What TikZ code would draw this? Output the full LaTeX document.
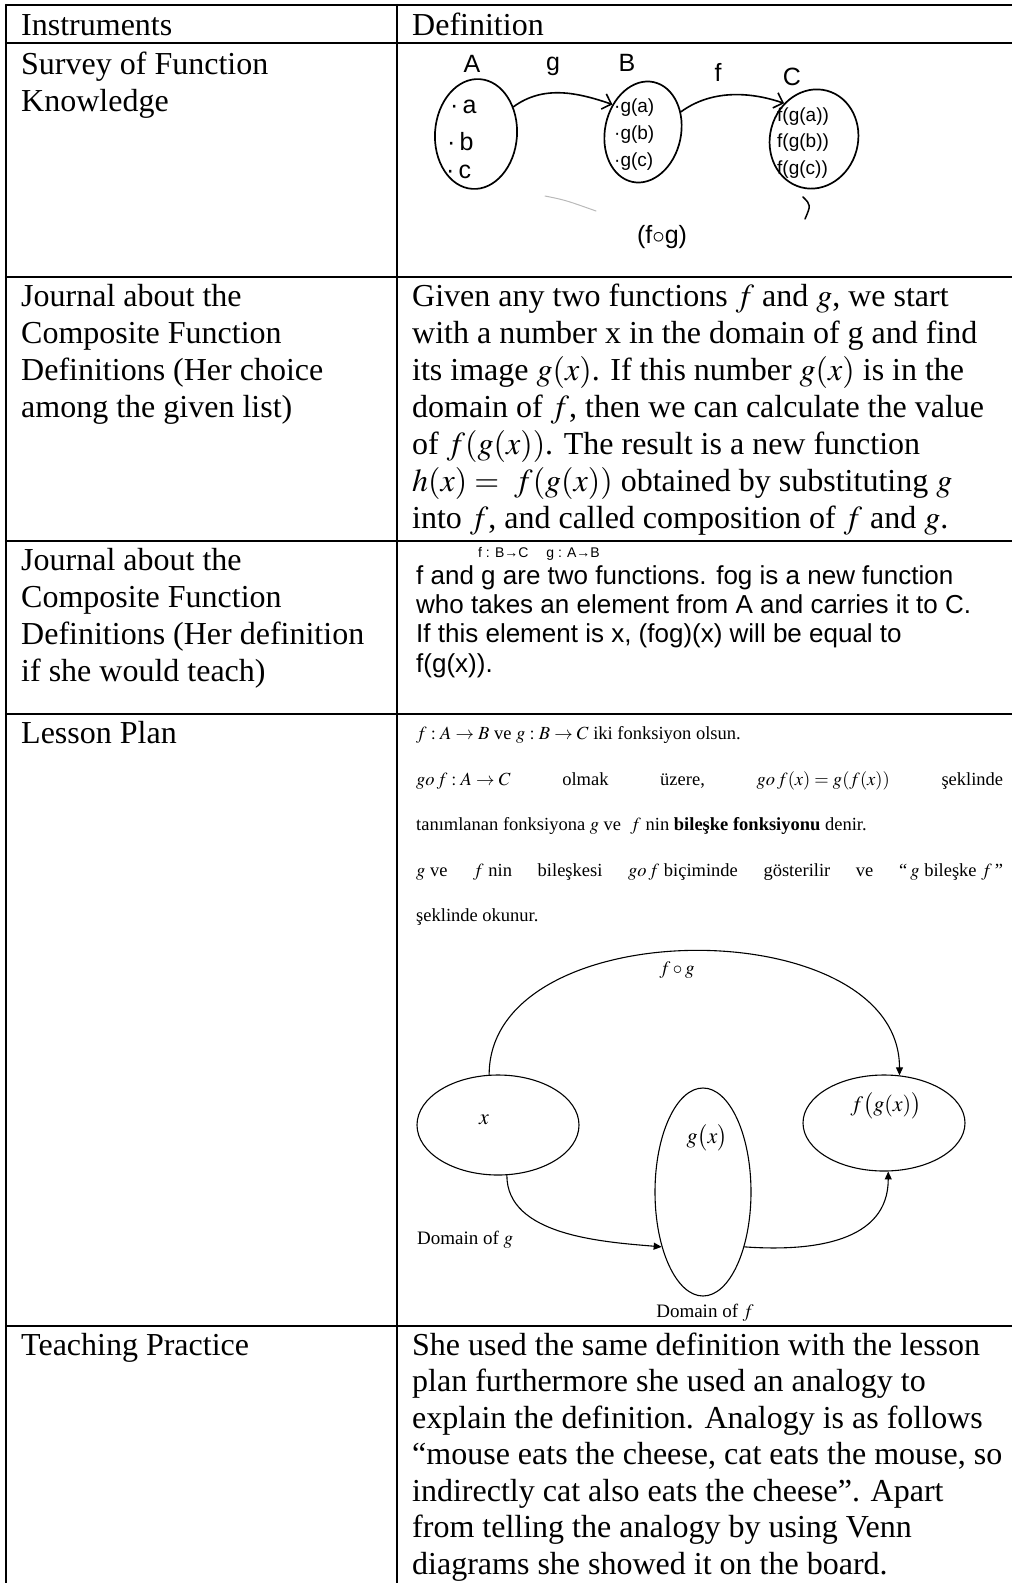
\documentclass[tikz,border=0pt]{standalone}
\usepackage{mathptmx}
\usepackage{fontspec}
\setmainfont{Liberation Serif}
\newfontfamily\handfont{Liberation Sans}
\usetikzlibrary{shapes.geometric,arrows.meta}
\tikzset{
	tabline/.style={line width=2.2pt},
	cell/.style={anchor=base west, inner sep=0pt, font=\fontsize{32}{37}\selectfont},
	plan/.style={anchor=base west, inner sep=0pt, font=\fontsize{18.5}{20}\selectfont},
	lbl/.style={inner sep=0pt, font=\fontsize{19}{21}\selectfont},
	biglbl/.style={inner sep=0pt, font=\fontsize{22}{24}\selectfont},
	hand/.style={inner sep=0pt, font=\handfont\fontsize{25}{27}\selectfont},
	handsm/.style={inner sep=0pt, font=\handfont\fontsize{19}{20}\selectfont},
	blob/.style={draw, ellipse, inner sep=0pt, line width=1.7pt},
	oval/.style={draw, ellipse, inner sep=0pt, line width=1.1pt},
	handarrow/.style={-{Straight Barb[length=8pt]}, line width=1.6pt},
	planarrow/.style={-{Triangle[length=8pt,width=7pt]}, line width=1.1pt}
}
\begin{document}
\begin{tikzpicture}[x=1pt, y=-1pt, line join=round, line cap=round]
	\useasboundingbox (0,0) rectangle (1012,1583);
	\def\xl{6} \def\xm{397} \def\xr{1012} \def\tl{21} \def\tr{412}
	% table
	\foreach \y in {5,43,277,541,714,1326} \draw[tabline] (\xl,\y)--(\xr,\y);
	\draw[tabline] (\xl,5)--(\xl,1583) (\xm,5)--(\xm,1583);
	\node[cell] (hi) at (\tl,35) {Instruments};
	\node[cell] (hd) at (\tr,35) {Definition};
	\foreach \t [count=\i from 0] in {Survey of Function, Knowledge}
		\node[cell] (sv\i) at (\tl,74+37*\i) {\t};
	\foreach \t [count=\i from 0] in {Journal about the, Composite Function, Definitions (Her choice, among the given list)}
		\node[cell] (ja\i) at (\tl,306+37*\i) {\t};
	\foreach \t [count=\i from 0] in {Journal about the, Composite Function, Definitions (Her definition, if she would teach)}
		\node[cell] (jb\i) at (\tl,570+37*\i) {\t};
	\node[cell] (lp) at (\tl,743) {Lesson Plan};
	\node[cell] (tp) at (\tl,1355) {Teaching Practice};
	% survey sketch
	\node[blob, minimum width=82pt, minimum height=110pt, rotate=-4] (setA) at (476,134) {};
	\node[blob, minimum width=76pt, minimum height=102pt, rotate=-12] (setB) at (643,132) {};
	\node[blob, minimum width=88pt, minimum height=100pt, rotate=-15] (setC) at (814,139) {};
	\node[hand] (lA) at (472,64) {A};
	\node[hand] (lB) at (627,63) {B};
	\node[hand] (lC) at (792,77) {C};
	\draw[handarrow] (setA.40) .. controls +(30,-22) and +(-35,-12) .. (setB.150);
	\draw[handarrow] (setB.40) .. controls +(30,-22) and +(-35,-12) .. (setC.145);
	\node[hand] (lg) at (553,66) {g};
	\node[hand] (lf) at (718,72) {f};
	\foreach \t/\y/\x in {a/107/450,b/142/447,c/172/446} \node[hand, anchor=west] (a\t) at (\x,\y) {·\,\t};
	\foreach \t/\y in {a/108,b/135,c/162} \node[handsm, anchor=west] (b\t) at (614,\y) {·g(\t)};
	\foreach \t/\y in {a/117,b/143,c/170} \node[handsm, anchor=west] (c\t) at (777,\y) {f(g(\t))};
	\draw[gray!55, line width=1pt] (545,196) .. controls (565,200) .. (596,211);
	\draw[line width=1.5pt] (803,197) .. controls (811,205) .. (805,219);
	\node[hand] (fg) at (662,237) {(f$\circ$g)};
	% journal
	\foreach \t [count=\i from 0] in {{Given any two functions $f$ and $g$, we start}, {with a number x in the domain of g and find}, {its image $g(x)$. If this number $g(x)$ is in the}, {domain of $f$, then we can calculate the value}, {of $f(g(x))$. The result is a new function}, {$h(x) =\ f(g(x))$ obtained by substituting $g$}, {into $f$, and called composition of $f$ and $g$.}}
		\node[cell] (jc\i) at (\tr,306+37*\i) {\t};
	\node[handsm, anchor=base west, font=\handfont\fontsize{14}{15}\selectfont] (sig) at (478,557) {f : B→C \quad g : A→B};
	\foreach \t/\y [count=\i] in {{f and g are two functions. fog is a new function}/584, {who takes an element from A and carries it to C.}/613, {If this element is x, (fog)(x) will be equal to}/642, {f(g(x)).}/672}
		\node[hand, font=\handfont\fontsize{26}{28}\selectfont, anchor=base west] (jh\i) at (416,\y) {\t};
	% lesson plan
	\node[plan] (lp1) at (416,739) {$f:A\rightarrow B$ ve $g:B\rightarrow C$ iki fonksiyon olsun.};
	\node[plan] (lp2) at (416,785) {\makebox[587pt][s]{$go\,f:A\rightarrow C$\hfill olmak\hfill üzere,\hfill $go\,f(x)=g(f(x))$\hfill şeklinde}};
	\node[plan] (lp3) at (416,830) {tanımlanan fonksiyona $g$ ve\ \ $f$ nin \textbf{bileşke fonksiyonu} denir.};
	\node[plan] (lp4) at (416,876) {\makebox[587pt][s]{$g$ ve\hfill $f$ nin\hfill bileşkesi\hfill $go\,f$ biçiminde\hfill gösterilir\hfill ve\hfill “\,$g$ bileşke $f$\,”}};
	\node[plan] (lp5) at (416,921) {şeklinde okunur.};
	\node[oval, minimum width=162pt, minimum height=100pt] (dx) at (498,1125) {};
	\node[oval, minimum width=96pt, minimum height=208pt] (dgx) at (703,1192) {};
	\node[oval, minimum width=162pt, minimum height=96pt] (dfgx) at (884,1123) {};
	\node[biglbl] (tx) at (484,1120) {$x$};
	\node[biglbl] (tgx) at (707,1138) {$g\bigl(x\bigr)$};
	\node[biglbl] (tfgx) at (886,1106) {$f\bigl(g(x)\bigr)$};
	\node[lbl] (tfog) at (677,970) {$f\circ g$};
	\node[lbl, anchor=west] (domg) at (417,1240) {Domain of $g$};
	\node[lbl] (domf) at (705,1313) {Domain of $f$};
	\draw[planarrow] (dx.100) .. controls +(0,-165) and +(0,-165) .. (dfgx.72);
	\draw[planarrow] (dx.-80) .. controls +(0,60) and +(-60,-5) .. (dgx.233);
	\draw[planarrow] (dgx.307) .. controls +(70,5) and +(0,70) .. (dfgx.275);
	% teaching practice
	\foreach \t [count=\i from 0] in {She used the same definition with the lesson, plan furthermore she used an analogy to, explain the definition. Analogy is as follows, {“mouse eats the cheese, cat eats the mouse, so}, {indirectly cat also eats the cheese”. Apart}, from telling the analogy by using Venn, diagrams she showed it on the board.}
		\node[cell] (tq\i) at (\tr,1355+36.5*\i) {\t};
\end{tikzpicture}
\end{document}
